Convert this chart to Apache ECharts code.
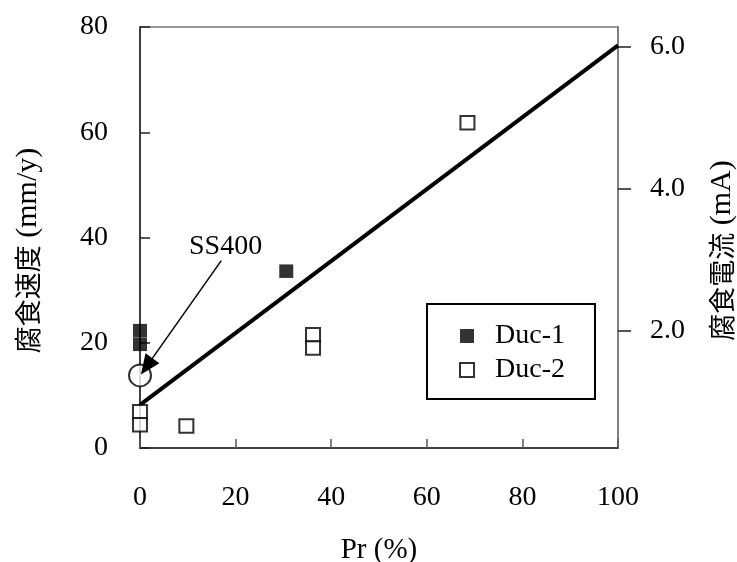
<!DOCTYPE html>
<html>
<head>
<meta charset="utf-8">
<script src="https://cdn.jsdelivr.net/npm/echarts@6/dist/echarts.min.js"></script>
<style>html,body{margin:0;padding:0;background:#fff;}#c{width:737px;height:562px;}</style>
</head>
<body>
<div id="c"></div>
<script>
// ---- data ----
const duc1 = [[0, 22.3], [0, 19.7], [30.6, 33.6]];
const duc2 = [[0, 6.9], [0, 4.4], [9.7, 4.2], [36.2, 21.5], [36.2, 19.0], [68.5, 61.8]];
const ss400 = [[0, 13.8]];
const trend = [[0, 8.2], [100, 76.5]];
const xTicks = [0, 20, 40, 60, 80, 100];
const yLeftTicks = [0, 20, 40, 60, 80];
const yRightTicks = [2, 4, 6];
const ss400LabelText = 'SS400';
const ss400ArrowFrom = [17.0, 35.6];
const ss400ArrowTo = [1.4, 15.5];
const ss400LabelAt = [17.9, 38.3];

const FONT = "'Liberation Serif', 'Noto Sans CJK JP', serif";
const CJK = "'Noto Sans CJK JP', sans-serif";
const nameRich = {
  c: {fontFamily: CJK, fontSize: 27, color: '#000'},
  l: {fontFamily: FONT, fontSize: 30, color: '#000'}
};
const chart = echarts.init(document.getElementById('c'), null, {renderer: 'canvas'});
chart.setOption({
  animation: false,
  backgroundColor: '#fff',
  textStyle: {fontFamily: FONT, color: '#000'},
  grid: {left: 140, right: 119, top: 27, bottom: 114, outerBoundsMode: 'none', containLabel: false,
    show: true, borderColor: '#777', borderWidth: 1.5, backgroundColor: 'transparent'},
  legend: {
    data: ['Duc-1', 'Duc-2'],
    orient: 'vertical',
    left: 427, top: 304,
    padding: [17, 30, 14, 32],
    borderColor: '#000', borderWidth: 2,
    itemWidth: 14, itemHeight: 14, itemGap: 4,
    textStyle: {fontFamily: FONT, fontSize: 28, color: '#000', padding: [0, 0, 0, 16], lineHeight: 30}
  },
  xAxis: {
    type: 'value', min: xTicks[0], max: xTicks[xTicks.length - 1], interval: 20,
    name: 'Pr (%)', nameLocation: 'middle', nameGap: 88,
    nameTextStyle: {fontFamily: FONT, fontSize: 29, color: '#000'},
    axisLine: {lineStyle: {color: '#222', width: 1.5}},
    axisTick: {inside: true, length: 9, lineStyle: {color: '#555', width: 1.5}},
    axisLabel: {margin: 36, fontFamily: FONT, fontSize: 28, color: '#000'},
    splitLine: {show: false}
  },
  yAxis: [{
    type: 'value', min: yLeftTicks[0], max: yLeftTicks[yLeftTicks.length - 1], interval: 20,
    name: '{c|腐食速度}{l| (mm/y)}', nameLocation: 'middle', nameGap: 97, nameRotate: 90,
    nameTextStyle: {rich: nameRich, padding: [0, 26, 0, 0]},
    axisLine: {show: true, lineStyle: {color: '#222', width: 1.5}},
    axisTick: {inside: true, length: 10, lineStyle: {color: '#222', width: 1.5}},
    axisLabel: {margin: 32, fontFamily: FONT, fontSize: 28, color: '#000'},
    splitLine: {show: false}
  }, {
    type: 'value', position: 'right', min: 0.343, max: 6.274,
    name: '{c|腐食電流}{l| (mA)}', nameLocation: 'middle', nameGap: 89, nameRotate: 90,
    nameTextStyle: {rich: nameRich, padding: [0, 26, 0, 0]},
    axisLine: {show: true, lineStyle: {color: '#777', width: 1.5}},
    axisTick: {show: true, inside: false, length: 13, customValues: yRightTicks, lineStyle: {color: '#222', width: 1.5}},
    axisLabel: {margin: 32, fontFamily: FONT, fontSize: 28, color: '#000', customValues: yRightTicks, formatter: v => Number(v).toFixed(1)},
    splitLine: {show: false}
  }],
  series: [
    {
      name: 'trend', type: 'line', data: trend, symbol: 'none', silent: true,
      lineStyle: {color: '#000', width: 4}, z: 2
    },
    {
      name: 'Duc-1', type: 'scatter', data: duc1, symbol: 'rect', symbolSize: [14, 13.5],
      itemStyle: {color: '#000', borderColor: '#000', borderWidth: 0}, z: 3
    },
    {
      name: 'Duc-2', type: 'scatter', data: duc2, symbol: 'rect', symbolSize: [14, 13.5],
      itemStyle: {color: '#fff', borderColor: '#000', borderWidth: 2}, z: 3
    },
    {
      name: 'SS400', type: 'scatter', data: ss400, symbol: 'circle', symbolSize: 22,
      itemStyle: {color: '#fff', borderColor: '#000', borderWidth: 2}, z: 4,
      markLine: {
        silent: true, symbol: ['none', 'triangle'], symbolSize: [17, 20],
        lineStyle: {color: '#000', width: 1.5, type: 'solid'},
        label: {show: false},
        data: [[{coord: ss400ArrowFrom}, {coord: ss400ArrowTo}]]
      },
      markPoint: {
        silent: true, symbol: 'circle', symbolSize: 0,
        label: {show: true, position: 'inside', formatter: ss400LabelText, fontFamily: FONT, fontSize: 28, color: '#000'},
        data: [{coord: ss400LabelAt}]
      }
    }
  ]
});
</script>
</body>
</html>
